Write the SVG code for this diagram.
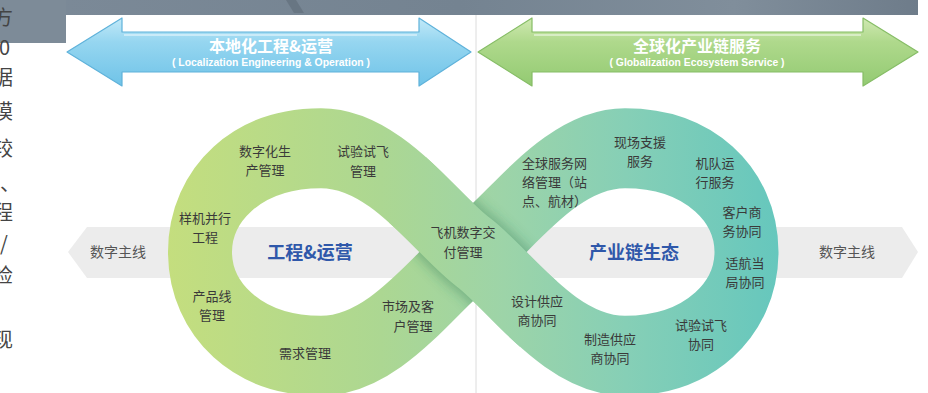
<svg xmlns="http://www.w3.org/2000/svg" width="928" height="393" viewBox="0 0 928 393">
<style>
.lbl{font-family:"Noto Sans CJK SC","Noto Sans",sans-serif;font-size:13px;fill:#3a3a3a;text-anchor:middle}
.ctr{font-family:"Noto Sans CJK SC","Noto Sans",sans-serif;font-size:18px;font-weight:bold;fill:#2f58aa;text-anchor:middle}
.ttl{font-family:"Noto Sans CJK SC","Noto Sans",sans-serif;font-size:16px;font-weight:bold;fill:#ffffff;text-anchor:middle}
.sub{font-family:"Liberation Sans",Arial,sans-serif;font-size:10px;font-weight:bold;fill:#ffffff;text-anchor:middle}
.thread{font-family:"Noto Sans CJK SC","Noto Sans",sans-serif;font-size:14px;fill:#555;text-anchor:middle}
.side{font-family:"Noto Sans CJK SC","Noto Sans",sans-serif;font-size:20px;fill:#444}
</style>
<defs>
<linearGradient id="topband" x1="0" y1="0" x2="1" y2="0">
<stop offset="0" stop-color="#7c8a98"/>
<stop offset="0.5" stop-color="#748391"/>
<stop offset="0.8" stop-color="#808e9b"/>
<stop offset="1" stop-color="#6e7c8a"/>
</linearGradient>
<linearGradient id="blueA" x1="0" y1="0" x2="0" y2="1">
<stop offset="0" stop-color="#c2e9f8"/>
<stop offset="0.35" stop-color="#96d6f0"/>
<stop offset="1" stop-color="#6fc3e8"/>
</linearGradient>
<linearGradient id="greenA" x1="0" y1="0" x2="0" y2="1">
<stop offset="0" stop-color="#d0e9b2"/>
<stop offset="0.35" stop-color="#afd98c"/>
<stop offset="1" stop-color="#93ca72"/>
</linearGradient>
<linearGradient id="bandGrad" gradientUnits="userSpaceOnUse" x1="168" y1="0" x2="778" y2="0">
<stop offset="0" stop-color="#c4de7e"/>
<stop offset="0.35" stop-color="#acd792"/>
<stop offset="0.55" stop-color="#9dd4a8"/>
<stop offset="0.75" stop-color="#86cfb6"/>
<stop offset="1" stop-color="#66c7bd"/>
</linearGradient>
<filter id="blur" x="-20%" y="-50%" width="140%" height="200%">
<feGaussianBlur stdDeviation="5"/>
</filter>
<mask id="underMask" maskUnits="userSpaceOnUse" x="150" y="-150" width="650" height="300">
<path d="M 321 83 C 386 83, 436 22, 473 0 C 510 -22, 560 -83, 625 -83" fill="none" stroke="#fff" stroke-width="64"/>
</mask>
</defs>

<rect width="928" height="393" fill="#ffffff"/>

<g id="topbar">
<rect x="0" y="0" width="918" height="15" fill="url(#topband)"/>
<rect x="0" y="0" width="66" height="43" fill="#7d8b98"/>
<polygon points="286,0 296,0 304,13 294,13" fill="#5f6c78" opacity="0.6"/>
</g>

<g id="sidetext">
<text class="side" x="-7" y="25">方</text>
<text class="side" x="-1" y="55">0</text>
<text class="side" x="-7" y="85">据</text>
<text class="side" x="-7" y="119">模</text>
<text class="side" x="-7" y="156">较</text>
<text class="side" x="0" y="191">、</text>
<text class="side" x="-7" y="220">程</text>
<text class="side" x="0" y="251">/</text>
<text class="side" x="-7" y="283">检</text>
<text class="side" x="-7" y="347">现</text>
</g>

<line x1="476" y1="15" x2="476" y2="393" stroke="#dcdcdc" stroke-width="1"/>

<g id="arrow-local">
<polygon points="67,52 122,18 122,32 419,32 419,18 471,52 419,86 419,72 122,72 122,86" fill="url(#blueA)" stroke="#5fb2da" stroke-width="1.2" stroke-linejoin="round"/>
<line x1="124" y1="35" x2="417" y2="35" stroke="#e6f6fc" stroke-width="1.5" opacity="0.8"/>
<text class="ttl" x="271" y="52">本地化工程&amp;运营</text>
<text class="sub" x="271" y="66" textLength="198" lengthAdjust="spacingAndGlyphs">( Localization Engineering &amp; Operation )</text>
</g>
<g id="arrow-global">
<polygon points="478,52 532,18 532,32 863,32 863,18 918,52 863,86 863,72 532,72 532,86" fill="url(#greenA)" stroke="#86bd66" stroke-width="1.2" stroke-linejoin="round"/>
<line x1="534" y1="35" x2="861" y2="35" stroke="#eef7e4" stroke-width="1.5" opacity="0.8"/>
<text class="ttl" x="697" y="52">全球化产业链服务</text>
<text class="sub" x="697" y="66" textLength="175" lengthAdjust="spacingAndGlyphs">( Globalization Ecosystem Service )</text>
</g>

<g id="thread">
<polygon points="68,252 87,227 902,227 918,252 902,278 87,278" fill="#ececec"/>
<text class="thread" x="118" y="257">数字主线</text>
<text class="thread" x="847" y="257">数字主线</text>
</g>

<g id="infinity" transform="translate(0,252) scale(1,1.25)">
<path d="M 473 0 C 510 -22, 560 -83, 625 -83 C 700 -83, 746.5 -45, 746.5 0 C 746.5 45, 700 83, 625 83 C 560 83, 510 22, 473 0 C 436 -22, 386 -83, 321 -83 C 246 -83, 200 -45, 200 0 C 200 45, 246 83, 321 83 C 386 83, 436 22, 473 0 Z" fill="none" stroke="url(#bandGrad)" stroke-width="64"/>
<g mask="url(#underMask)">
<path d="M 538.5 49.75 C 513.25 31.75, 491.5 11, 473 0 C 454.5 -11, 432.75 -31.75, 407.5 -49.75" fill="none" stroke="#2f7a55" stroke-opacity="0.4" stroke-width="70" filter="url(#blur)"/>
</g>
<path d="M 538.5 49.75 C 513.25 31.75, 491.5 11, 473 0 C 454.5 -11, 432.75 -31.75, 407.5 -49.75" fill="none" stroke="url(#bandGrad)" stroke-width="64"/>
</g>

<g id="center-left"><text class="ctr" x="310" y="259">工程&amp;运营</text></g>
<g id="center-right"><text class="ctr" x="634" y="259">产业链生态</text></g>

<g id="n1"><text class="lbl" x="265" y="156">数字化生<tspan x="265" dy="19">产管理</tspan></text></g>
<g id="n2"><text class="lbl" x="363" y="156">试验试飞<tspan x="363" dy="20">管理</tspan></text></g>
<g id="n3"><text class="lbl" x="205" y="222.5">样机并行<tspan x="205" dy="19">工程</tspan></text></g>
<g id="n4"><text class="lbl" x="212" y="300.5">产品线<tspan x="212" dy="19">管理</tspan></text></g>
<g id="n5"><text class="lbl" x="305" y="358">需求管理</text></g>
<g id="n6"><text class="lbl" x="408" y="311">市场及客<tspan x="413" dy="20">户管理</tspan></text></g>
<g id="n7"><text class="lbl" x="463" y="237">飞机数字交<tspan x="463" dy="20">付管理</tspan></text></g>
<g id="n8"><text class="lbl" x="522" y="168" style="text-anchor:start">全球服务网<tspan x="522" dy="19">络管理（站</tspan><tspan x="522" dy="19">点、航材）</tspan></text></g>
<g id="n9"><text class="lbl" x="640" y="147">现场支援<tspan x="640" dy="19">服务</tspan></text></g>
<g id="n10"><text class="lbl" x="715" y="168">机队运<tspan x="715" dy="19">行服务</tspan></text></g>
<g id="n11"><text class="lbl" x="742" y="216.5">客户商<tspan x="742" dy="19">务协同</tspan></text></g>
<g id="n12"><text class="lbl" x="745" y="268">适航当<tspan x="745" dy="19">局协同</tspan></text></g>
<g id="n13"><text class="lbl" x="701" y="330">试验试飞<tspan x="701" dy="19">协同</tspan></text></g>
<g id="n14"><text class="lbl" x="610" y="343.5">制造供应<tspan x="610" dy="19">商协同</tspan></text></g>
<g id="n15"><text class="lbl" x="537" y="306">设计供应<tspan x="537" dy="19">商协同</tspan></text></g>
</svg>
